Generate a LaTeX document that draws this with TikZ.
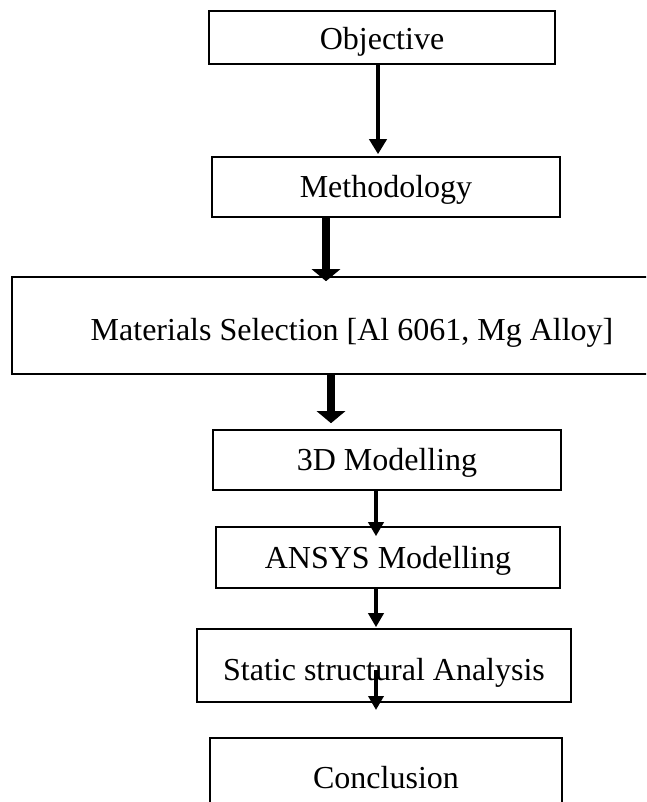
\documentclass[tikz,border=0pt]{standalone}
\usepackage{fontspec}
\setmainfont{Liberation Serif}
\usetikzlibrary{arrows.meta}
\begin{document}
\begin{tikzpicture}[x=1pt,y=-1pt,
  box/.style={draw=black,line width=1.6pt,rectangle,inner sep=0pt,
    font=\fontsize{32}{38}\selectfont,text height=21pt,text depth=0pt},
  thinarr/.style={line width=4.5pt,-{Triangle[width=17pt,length=15pt]}},
  thickarr/.style={line width=8pt,-{Triangle[width=28pt,length=12pt]}},
  smallarr/.style={line width=3.5pt,-{Triangle[width=15pt,length=14pt]}}]
\path[use as bounding box,clip] (0,0) rectangle (646,802);
\node[box,minimum width=346pt,minimum height=53pt,text height=25pt] (obj) at (382,37.5) {Objective};
\node[box,minimum width=348pt,minimum height=60pt] (meth) at (386,187) {Methodology};
\node[box,minimum width=680pt,minimum height=97pt,text height=29pt] (mat) at (352,325.5) {Materials Selection [Al 6061, Mg Alloy]};
\node[box,minimum width=348pt,minimum height=60pt] (d3) at (387,460) {3D Modelling};
\node[box,minimum width=344pt,minimum height=61pt] (ansys) at (388,557.5) {ANSYS Modelling};
\node[box,minimum width=374pt,minimum height=73pt,text height=29pt] (stat) at (384,665.5) {Static structural Analysis};
\node[box,minimum width=352pt,minimum height=79pt] (concl) at (386,777.5) {Conclusion};
\coordinate (x1) at (378,0);
\coordinate (x2) at (326,0);
\coordinate (x3) at (331,0);
\coordinate (x4) at (376,0);
\coordinate (s6) at (376,670);
\coordinate (e6) at (376,710);
\draw[thinarr,shorten >=2pt] (obj.south -| x1) -- (meth.north -| x1);
\draw[thickarr,shorten >=-5pt] (meth.south -| x2) -- (mat.north -| x2);
\draw[thickarr,shorten >=6pt] (mat.south -| x3) -- (d3.north -| x3);
\draw[smallarr,shorten >=-10pt] (d3.south -| x4) -- (ansys.north -| x4);
\draw[smallarr,shorten >=1pt] (ansys.south -| x4) -- (stat.north -| x4);
\draw[smallarr] (s6) -- (e6);
\end{tikzpicture}
\end{document}
